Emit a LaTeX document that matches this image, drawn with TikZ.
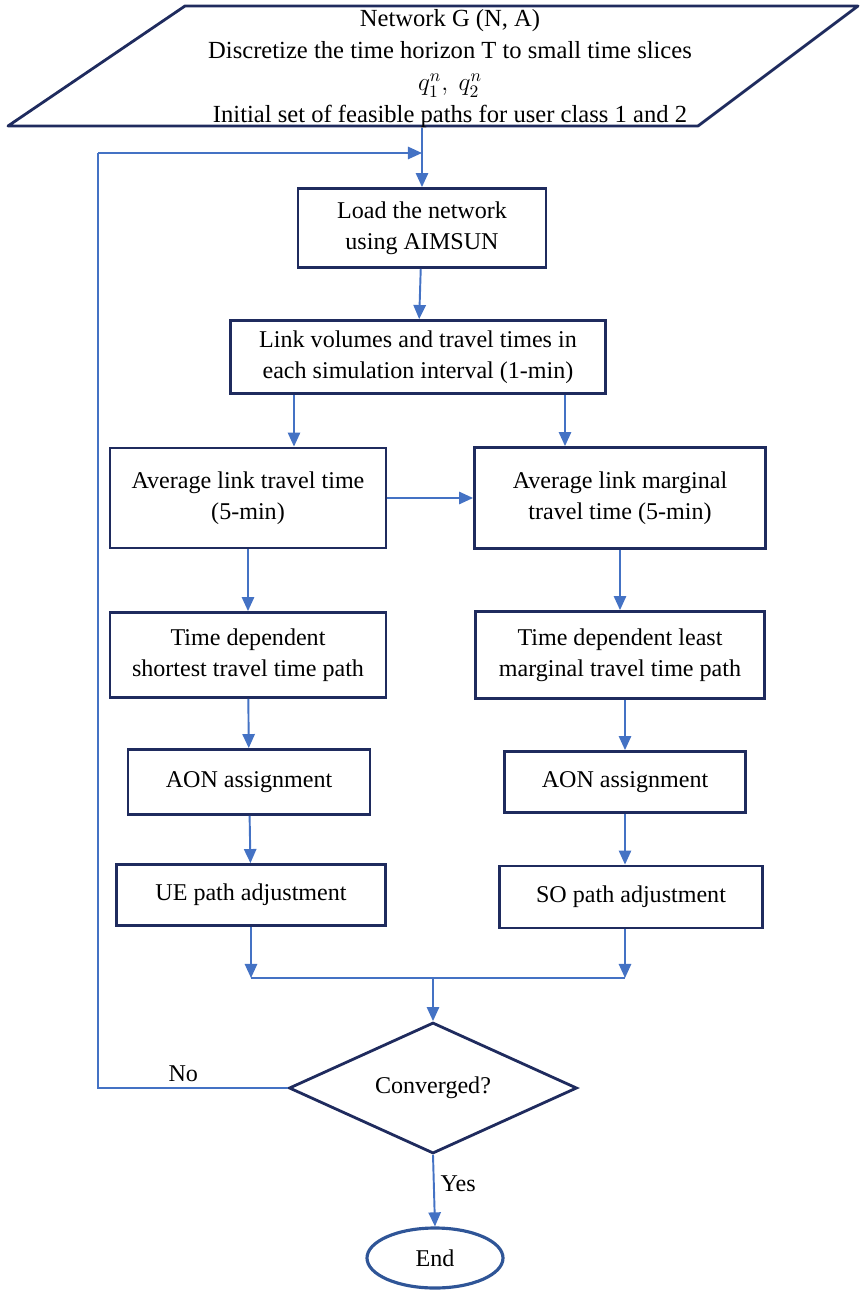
\documentclass[tikz,border=0pt]{standalone}
\usepackage{fontspec}
\setmainfont{Liberation Serif}
\usepackage{tikz}
\usetikzlibrary{shapes.geometric,arrows.meta}
\definecolor{frame}{HTML}{1F2B5E}
\definecolor{flow}{HTML}{4472C4}
\definecolor{term}{HTML}{2F5597}
\tikzset{
  txt/.style={font=\fontsize{13.7}{17.5}\selectfont, align=center},
  box/.style={txt, draw=frame, line width=1.6pt, inner sep=2pt},
  sized/.style 2 args={minimum width=#1*0.02cm, minimum height=#2*0.02cm},
  arr/.style={draw=flow, line width=1.1pt, -{Triangle[length=8pt,width=7pt]}},
  link/.style={draw=flow, line width=1.1pt},
  back/.style={draw=flow, line width=0.6pt},
  dec/.style={txt, diamond, draw=frame, line width=1.6pt, aspect=2.2, inner sep=0pt},
  stop/.style={txt, ellipse, draw=term, line width=1.8pt, inner sep=0pt},
}
\begin{document}
\begin{tikzpicture}[x=0.02cm, y=-0.02cm]
  \useasboundingbox (0,0) rectangle (860,1290);
  % input
  \draw[frame, line width=1.6pt, line join=round] (185,6) -- (858,6) -- (698,126) -- (8,126) -- cycle;
  \node[txt, font=\fontsize{14}{18.2}\selectfont, sized={400}{114}, inner sep=0pt] (inp) at (450,69)
    {Network G (N, A)\\ Discretize the time horizon T to small time slices\\ $q_1^n,\ q_2^n$\\ Initial set of feasible paths for user class 1 and 2};
  % boxes
  \node[box, sized={248}{79}] (load) at (422,228) {Load the network\\ using AIMSUN};
  \node[box, sized={375}{73}] (vol) at (418,357) {Link volumes and travel times in\\ each simulation interval (1-min)};
  \node[box, sized={276}{100}] (avgtt) at (248,498) {Average link travel time\\ (5-min)};
  \node[box, sized={291}{101}] (avgmt) at (620,498) {Average link marginal\\ travel time (5-min)};
  \node[box, sized={276}{85}] (sptt) at (248,655) {Time dependent\\ shortest travel time path};
  \node[box, sized={289}{87}] (lmtt) at (620,655) {Time dependent least\\ marginal travel time path};
  \node[box, sized={242}{65}] (aonL) at (249,782) {AON assignment};
  \node[box, sized={241}{61}] (aonR) at (625,782) {AON assignment};
  \node[box, sized={269}{61}] (ue) at (251,895) {UE path adjustment};
  \node[box, sized={263}{62}] (so) at (631,897) {SO path adjustment};
  \node[dec, sized={288}{131}] (conv) at (433,1088) {Converged?};
  \node[stop, sized={136}{60}] (end) at (435,1258) {End};
  % helper points
  \coordinate (splitL) at (294,0);
  \coordinate (splitR) at (565,0);
  \coordinate (colR) at (625,0);
  \coordinate (merge) at (433,978);
  \coordinate (ret) at (98,153);
  % connectors
  \draw[arr] (load.north |- inp.south) -- (load.north);
  \draw[arr] (load) -- (vol);
  \draw[arr] (vol.south -| splitL) -- (avgtt.north -| splitL);
  \draw[arr] (vol.south -| splitR) -- (avgmt.north -| splitR);
  \draw[arr] (avgtt) -- (avgmt);
  \draw[arr] (avgtt) -- (sptt);
  \draw[arr] (avgmt) -- (lmtt);
  \draw[arr] (sptt) -- (aonL);
  \draw[arr] (lmtt.south -| colR) -- (aonR.north -| colR);
  \draw[arr] (aonL) -- (ue);
  \draw[arr] (aonR.south -| colR) -- (so.north -| colR);
  \draw[arr] (ue.south) -- (ue.south |- merge);
  \draw[arr] (so.south -| colR) -- (merge -| colR);
  \draw[link] (ue.south |- merge) -- (merge -| colR);
  \draw[arr] (merge) -- (conv.north);
  \draw[arr] (conv.south) -- node[txt, right, pos=0.4]{Yes} (end.north);
  % loop back
  \draw[back] (conv.west) -- node[txt, above, pos=0.55]{No} (conv.west -| ret) -- (ret);
  \draw[arr] (ret) -- (ret -| load.north);
\end{tikzpicture}
\end{document}
